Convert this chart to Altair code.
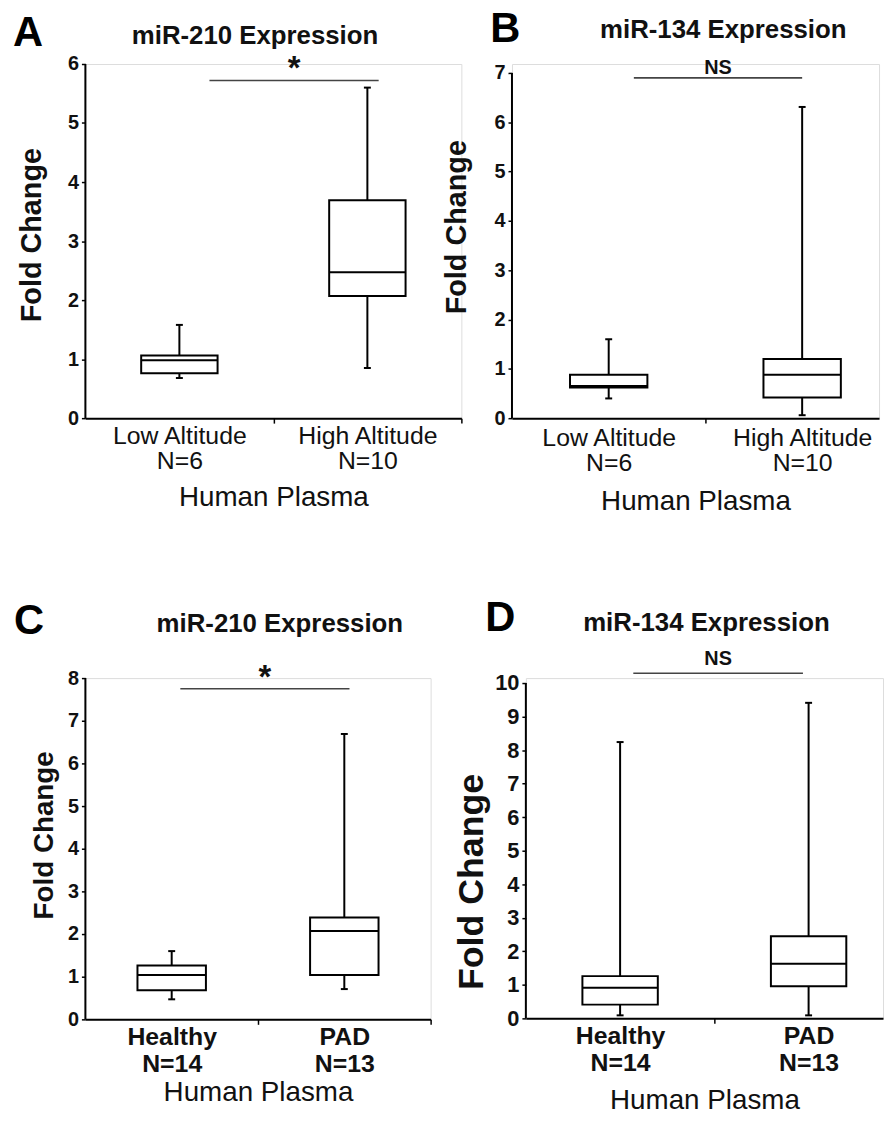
import altair as alt
import pandas as pd

FONT = "Liberation Sans"
INK = "#111111"

# ---------------- data ----------------
# Panel A: miR-210, altitude
A_CATS = ["Low Altitude", "High Altitude"]
A_N = ["N=6", "N=10"]
A_MIN = [0.68, 0.85]
A_Q1 = [0.76, 2.07]
A_MED = [0.98, 2.47]
A_Q3 = [1.06, 3.69]
A_MAX = [1.58, 5.60]
A_SIG = ["*", 5.72, 0.66, 1.56]

# Panel B: miR-134, altitude
B_CATS = ["Low Altitude", "High Altitude"]
B_N = ["N=6", "N=10"]
B_MIN = [0.40, 0.06]
B_Q1 = [0.62, 0.42]
B_MED = [0.65, 0.88]
B_Q3 = [0.88, 1.20]
B_MAX = [1.60, 6.31]
B_SIG = ["NS", 6.90, 0.63, 1.50]

# Panel C: miR-210, PAD
C_CATS = ["Healthy", "PAD"]
C_N = ["N=14", "N=13"]
C_MIN = [0.47, 0.71]
C_Q1 = [0.68, 1.04]
C_MED = [1.04, 2.07]
C_Q3 = [1.26, 2.39]
C_MAX = [1.60, 6.69]
C_SIG = ["*", 7.75, 0.55, 1.53]

# Panel D: miR-134, PAD
D_CATS = ["Healthy", "PAD"]
D_N = ["N=14", "N=13"]
D_MIN = [0.09, 0.09]
D_Q1 = [0.41, 0.96]
D_MED = [0.91, 1.63]
D_Q3 = [1.26, 2.45]
D_MAX = [8.24, 9.41]
D_SIG = ["NS", 10.29, 0.57, 1.47]


def panel(letter, title, cats, ns, mins, q1s, meds, q3s, maxs, sig, ymax, st):
    box_df = pd.DataFrame({
        "cat": cats,
        "pos": [i + 0.5 for i in range(len(cats))],
        "min": mins, "q1": q1s, "median": meds, "q3": q3s, "max": maxs,
    })
    sig_df = pd.DataFrame({"label": [sig[0]], "y": [sig[1]], "x1": [sig[2]], "x2": [sig[3]]})
    let_df = pd.DataFrame({"letter": [letter], "title": [title], "x0": [0], "y0": [0], "y1": [ymax]})

    xvals = [0, 0.5, 1, 1.5] + ([2] if st["xmax"] >= 2 else [])
    label_expr = (
        f"datum.value == 0.5 ? ['{cats[0]}', '{ns[0]}'] : "
        f"datum.value == 1.5 ? ['{cats[1]}', '{ns[1]}'] : ''"
    )
    xscale = alt.Scale(domain=[0, st["xmax"]], nice=False, zero=False, padding=0)
    yscale = alt.Scale(domain=[0, st["ytop"]], nice=False, zero=False, padding=0)

    xaxis = alt.Axis(
        values=xvals, tickCount=30, labelExpr=label_expr, labelOverlap=False, labelFlush=False,
        labelFont=FONT, labelFontSize=st["xl_size"], labelFontWeight=st["xl_weight"],
        labelColor=INK, labelLineHeight=st["xl_lh"], labelPadding=st["xl_pad"],
        labelAngle=0,
        tickOpacity={"condition": {"test": "datum.value == 1 || datum.value == 2", "value": 1}, "value": 0},
        tickColor="black", tickWidth=1.5, tickSize=5,
        domainColor="black", domainWidth=2, grid=False,
        title="Human Plasma", titleFont=FONT, titleFontSize=st["xt_size"],
        titleFontWeight="normal", titleColor=INK, titlePadding=st["xt_pad"],
    )
    yaxis = alt.Axis(
        values=list(range(ymax + 1)), tickCount=30, format="d", labelOverlap=False,
        labelFont=FONT, labelFontSize=st["yl_size"], labelFontWeight="bold",
        labelColor=INK, labelPadding=3,
        tickColor="black", tickWidth=1.5, tickSize=4,
        domain=False, grid=False,
        title="Fold Change", titleFont=FONT, titleFontSize=st["yt_size"],
        titleFontWeight="bold", titleColor=INK, titlePadding=st["yt_pad"],
        titleY=st["yt_y"],
    )

    def X(f):
        return alt.X(f, scale=xscale, axis=xaxis)

    def Y(f):
        return alt.Y(f, scale=yscale, axis=yaxis)

    base = alt.Chart(box_df)
    whisk = base.mark_rule(color="black", strokeWidth=2).encode(
        x=X("pos:Q"), y=Y("min:Q"), y2="max:Q",
    )
    # y axis line, from 0 to the top tick
    yline = alt.Chart(let_df).mark_rule(color="black", strokeWidth=2).encode(
        x=X("x0:Q"), y=Y("y0:Q"), y2="y1:Q",
    )
    caps = base.transform_fold(["min", "max"], as_=["stat", "val"]).mark_tick(
        orient="horizontal", color="black", size=7, thickness=2, opacity=1
    ).encode(x=X("pos:Q"), y=Y("val:Q"))
    box = base.mark_bar(fill="white", stroke="black", strokeWidth=2, size=st["box"], opacity=1).encode(
        x=X("pos:Q"), y=Y("q1:Q"), y2="q3:Q"
    )
    med = base.mark_tick(orient="horizontal", color="black", size=st["box"], thickness=2, opacity=1).encode(
        x=X("pos:Q"), y=Y("median:Q")
    )
    sbar = alt.Chart(sig_df).mark_rule(color="#444444", strokeWidth=1.6).encode(
        x=X("x1:Q"), x2="x2:Q", y=Y("y:Q")
    )
    stext = alt.Chart(sig_df).transform_calculate(xm="(datum.x1 + datum.x2) / 2").mark_text(
        font=FONT, fontSize=st["sig_size"], fontWeight="bold", color=INK,
        baseline="alphabetic", dy=st["sig_dy"],
    ).encode(x=X("xm:Q"), y=Y("y:Q"), text="label:N")
    let = alt.Chart(let_df).mark_text(
        font=FONT, fontSize=42, fontWeight="bold", color="black",
        align="left", baseline="top",
    ).encode(text="letter:N", x=alt.value(st["let_x"]), y=alt.value(st["let_y"]))
    ttl = alt.Chart(let_df).mark_text(
        font=FONT, fontSize=26, fontWeight="bold", color=INK,
        align="center", baseline="alphabetic",
    ).encode(text="title:N", x=alt.value(st["t_x"]), y=alt.value(st["t_y"]))

    return alt.layer(whisk, yline, box, med, caps, sbar, stext, ttl, let).properties(
        width=st["w"], height=st["h"],
    )


STYLE_A = dict(w=379, h=357, xmax=2, ytop=6, box=77, xl_size=25, xl_weight="normal", xl_lh=25, xl_pad=1,
               xt_size=28, xt_pad=10, yl_size=20, yt_size=29, yt_pad=21, yt_y=172, sig_size=33, sig_dy=-2,
               let_x=-73, let_y=-51, t_x=171, t_y=-20)
STYLE_B = dict(w=370, h=357, xmax=370 / 195, ytop=7 * 357 / 348, box=78, xl_size=25, xl_weight="normal",
               xl_lh=25, xl_pad=3, xt_size=28, xt_pad=12, yl_size=20, yt_size=29, yt_pad=23, yt_y=164,
               sig_size=20, sig_dy=-4, let_x=-22, let_y=-55, t_x=213, t_y=-26)
STYLE_C = dict(w=348, h=344, xmax=2, ytop=8, box=69, xl_size=25, xl_weight="bold", xl_lh=28, xl_pad=0,
               xt_size=28, xt_pad=2, yl_size=20, yt_size=28, yt_pad=9, yt_y=158, sig_size=33, sig_dy=-1,
               let_x=-72, let_y=-77, t_x=196, t_y=-46)
STYLE_D = dict(w=360, h=343, xmax=360 / 190, ytop=10 * 343 / 338, box=76, xl_size=25, xl_weight="bold",
               xl_lh=28, xl_pad=0, xt_size=28, xt_pad=11, yl_size=22, yt_size=36, yt_pad=4, yt_y=205,
               sig_size=20, sig_dy=-8, let_x=-41, let_y=-80, t_x=182, t_y=-47)

pA = panel("A", "miR-210 Expression", A_CATS, A_N, A_MIN, A_Q1, A_MED, A_Q3, A_MAX, A_SIG, 6, STYLE_A)
pB = panel("B", "miR-134 Expression", B_CATS, B_N, B_MIN, B_Q1, B_MED, B_Q3, B_MAX, B_SIG, 7, STYLE_B)
pC = panel("C", "miR-210 Expression", C_CATS, C_N, C_MIN, C_Q1, C_MED, C_Q3, C_MAX, C_SIG, 8, STYLE_C)
pD = panel("D", "miR-134 Expression", D_CATS, D_N, D_MIN, D_Q1, D_MED, D_Q3, D_MAX, D_SIG, 10, STYLE_D)

row1 = alt.hconcat(pA, pB, spacing=-22)
row2 = alt.hconcat(pC, pD, spacing=21)
chart = alt.concat(row1, row2, columns=1, align="none", spacing=81).properties(
    padding={"left": 4, "top": -5, "right": 0, "bottom": 0}
).configure_view(stroke=None).configure(background="white")

chart.save("out.html", embed_options={"renderer": "svg", "actions": False})
